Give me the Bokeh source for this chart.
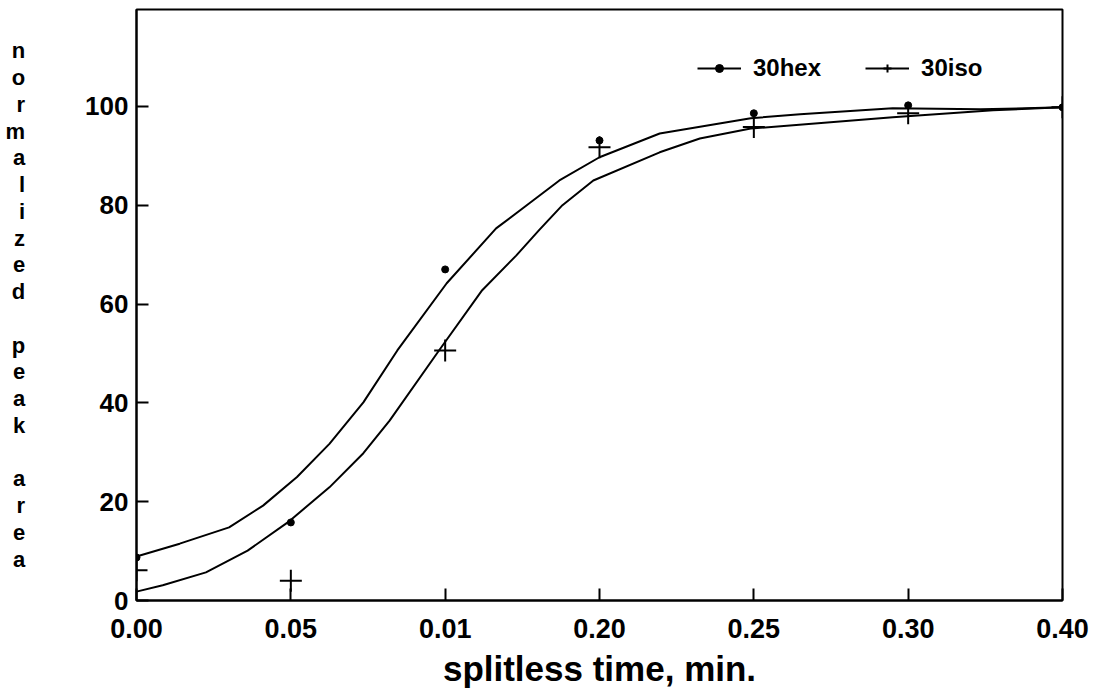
from bokeh.plotting import figure
from bokeh.models import FixedTicker, Legend, LegendItem, Range1d
from bokeh.embed import file_html
from bokeh.resources import INLINE

# ---- data ----
x_idx = [0, 1, 2, 3, 4, 5, 6]
x_labels = ["0.00", "0.05", "0.01", "0.20", "0.25", "0.30", "0.40"]
y_ticks = [0, 20, 40, 60, 80, 100]

hex_y = [8.7, 15.8, 67.0, 93.1, 98.6, 100.2, 99.8]
iso_y = [6.1, 4.0, 50.6, 91.7, 95.8, 98.6, 99.8]

hex_fit_x = [0.0, 0.28, 0.60, 0.82, 1.04, 1.25, 1.47, 1.69, 2.01, 2.33, 2.55, 2.74, 3.00, 3.39, 3.98, 4.30, 4.90, 5.47, 6.0]
hex_fit_y = [8.9, 11.5, 14.8, 19.2, 25.0, 31.7, 40.1, 50.6, 64.2, 75.3, 80.5, 85.0, 89.7, 94.5, 97.6, 98.4, 99.6, 99.4, 99.8]
iso_fit_x = [0.0, 0.17, 0.45, 0.72, 0.98, 1.25, 1.47, 1.64, 1.96, 2.24, 2.46, 2.61, 2.76, 2.96, 3.39, 3.65, 3.98, 4.90, 5.55, 6.0]
iso_fit_y = [1.8, 3.1, 5.7, 10.1, 15.8, 22.9, 29.8, 36.4, 50.6, 62.8, 69.8, 75.0, 80.0, 85.0, 90.7, 93.5, 95.5, 97.8, 99.2, 99.8]

y_title = "normalized peak area"

FONT = "Liberation Sans"

p = figure(width=1103, height=696, x_range=Range1d(0, 6), y_range=Range1d(0, 119.6),
           output_backend="svg", toolbar_location=None,
           min_border_left=136, min_border_right=41, min_border_top=9, min_border_bottom=96)

p.xgrid.visible = False
p.ygrid.visible = False
p.outline_line_color = "black"
p.outline_line_width = 2
p.background_fill_color = "white"
p.border_fill_color = "white"

# curves
hex_line = p.line(hex_fit_x, hex_fit_y, line_color="black", line_width=2, line_join="round")
iso_line = p.line(iso_fit_x, iso_fit_y, line_color="black", line_width=2, line_join="round")
# points
hex_pts = p.scatter(x_idx, hex_y, marker="circle", size=7, fill_color="black", line_color="black")
iso_pts = p.scatter(x_idx, iso_y, marker="cross", size=22, line_color="black", line_width=2)

# axes
p.xaxis.ticker = FixedTicker(ticks=x_idx)
p.xaxis.major_label_overrides = {i: lab for i, lab in zip(x_idx, x_labels)}
p.yaxis.ticker = FixedTicker(ticks=y_ticks)
for ax in (p.xaxis, p.yaxis):
    ax.axis_line_width = 2
    ax.axis_line_color = "black"
    ax.major_tick_in = 12
    ax.major_tick_out = 0
    ax.major_tick_line_width = 2
    ax.minor_tick_in = 0
    ax.minor_tick_out = 0
    ax.major_label_text_font = FONT
    ax.major_label_text_font_style = "bold"
    ax.major_label_text_color = "black"
    ax.axis_label_text_font = FONT
    ax.axis_label_text_font_style = "bold"
    ax.axis_label_text_color = "black"

p.xaxis.major_label_text_font_size = "27px"
p.xaxis.major_label_standoff = 18
p.xaxis.axis_label = "splitless time, min."
p.xaxis.axis_label_text_font_size = "35px"
p.xaxis.axis_label_standoff = 8

p.yaxis.major_label_text_font_size = "26px"
p.yaxis.major_label_standoff = 8
p.yaxis.axis_label = "\n".join(["" if c == " " else c for c in y_title])
p.yaxis.axis_label_orientation = "horizontal"
p.yaxis.axis_label_text_font_size = "22px"
p.yaxis.axis_label_text_line_height = 1.07
p.yaxis.axis_label_standoff = 57

legend = Legend(items=[LegendItem(label="30hex", renderers=[hex_line, hex_pts]),
                       LegendItem(label="30iso", renderers=[iso_line, iso_pts])],
                orientation="horizontal", location=(561, 518),
                border_line_alpha=0, background_fill_alpha=0,
                glyph_width=44, label_standoff=12, spacing=44, padding=0, margin=0,
                label_text_font=FONT, label_text_font_size="24px", label_text_font_style="bold",
                label_text_color="black")
p.add_layout(legend)

open("out.html", "w").write(file_html(p, INLINE))
